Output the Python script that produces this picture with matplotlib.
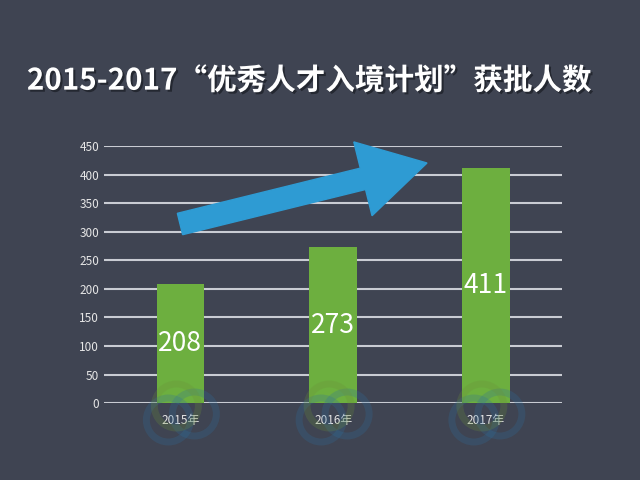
import matplotlib
matplotlib.use('Agg')
import matplotlib.pyplot as plt
from matplotlib.patches import FancyArrow, Circle
import matplotlib.patheffects as pe

plt.rcParams['font.family'] = ['Noto Sans CJK SC', 'DejaVu Sans']

years = ['2015年', '2016年', '2017年']
approved = [208, 273, 411]
yticks = [0, 50, 100, 150, 200, 250, 300, 350, 400, 450]
title = '2015-2017“优秀人才入境计划”获批人数'

bg = '#3f4452'
green = '#6daf3f'
blue = '#2e9bd3'
grid = '#c9ccd3'

fig = plt.figure(figsize=(6.4, 4.8), dpi=100, facecolor=bg)
ax = fig.add_axes([0.1625, 0.16, 0.716, 0.536], facecolor=bg)

x = range(len(years))
bars = ax.bar(x, approved, width=0.31, color=green, zorder=3)
for b, v in zip(bars, approved):
    ax.text(b.get_x() + b.get_width() / 2, v / 2, str(v), ha='center', va='center',
            color='white', fontsize=19, zorder=4)

ax.set_ylim(0, 450)
ax.set_xlim(-0.5, 2.5)
ax.set_yticks(yticks)
ax.yaxis.grid(True, color=grid, linewidth=1.5, zorder=0)
ax.set_axisbelow(True)
ax.set_xticks(list(x))
ax.set_xticklabels(years)
ax.tick_params(axis='both', length=0, colors='#e6e6e6', labelsize=8.5)
ax.tick_params(axis='x', pad=8)
for s in ax.spines.values():
    s.set_visible(False)

# faint watermark rings under year labels
for i in x:
    cx = (0.1625 + 0.716 * (i + 0.5) / 3) * 6.4
    for dx, dy, col in [(-0.12, 0.60, '#2e6f9e'), (0.14, 0.66, '#2e6f9e'), (-0.04, 0.74, '#6a8f3a')]:
        fig.add_artist(Circle((cx + dx, dy), 0.22, transform=fig.dpi_scale_trans,
                              fill=False, lw=5, ec=col, alpha=0.25, zorder=1))

# trend arrow
fig.add_artist(FancyArrow(1.80, 2.56, 2.47, 0.61, width=0.22, head_width=0.76,
                          head_length=0.66, length_includes_head=True,
                          color=blue, transform=fig.dpi_scale_trans, zorder=5))

fig.text(0.483, 0.832, title, ha='center', va='center', color='white',
         fontsize=21.3, fontweight='bold',
         path_effects=[pe.withSimplePatchShadow(offset=(1.5, -1.5), shadow_rgbFace='#1e2129', alpha=0.8)])

fig.savefig('out.png', dpi=100, facecolor=bg)
